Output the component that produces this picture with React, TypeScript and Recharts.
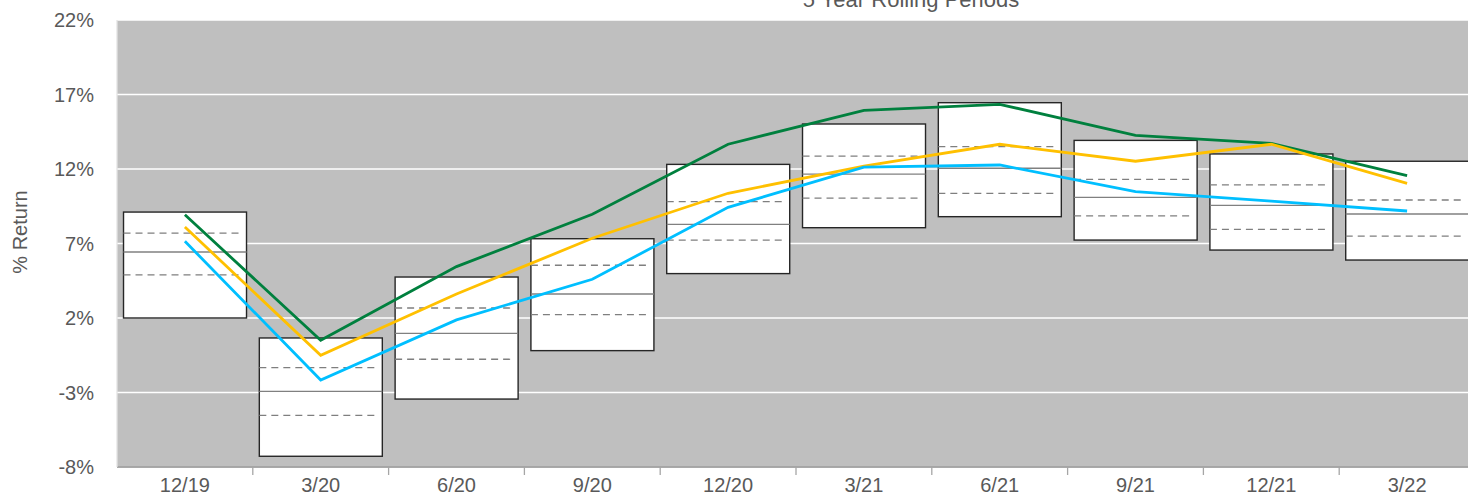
import React from 'react';
import {
  ComposedChart,
  Bar,
  Line,
  XAxis,
  YAxis,
  CartesianGrid,
} from 'recharts';

// rolling 5 year periods
const periods = ['12/19', '3/20', '6/20', '9/20', '12/20', '3/21', '6/21', '9/21', '12/21', '3/22'];

// universe percentiles (box = 5th..95th, dashed = 25th/75th, solid = median)
const pct5 = [2.0, -7.28, -3.44, -0.19, 4.98, 8.06, 8.8, 7.23, 6.56, 5.89];
const pct25 = [4.89, -4.53, -0.77, 2.22, 7.23, 10.05, 10.37, 8.85, 7.95, 7.5];
const pct50 = [6.43, -2.92, 0.97, 3.61, 8.29, 11.66, 12.05, 10.1, 9.56, 8.98];
const pct75 = [7.7, -1.33, 2.67, 5.54, 9.81, 12.87, 13.5, 11.31, 10.93, 9.92];
const pct95 = [9.11, 0.66, 4.75, 7.32, 12.31, 15.02, 16.45, 13.92, 13.01, 12.52];

// series
const greenSeries = [8.93, 0.5, 5.45, 8.96, 13.66, 15.94, 16.34, 14.26, 13.72, 11.55];
const yellowSeries = [8.11, -0.5, 3.61, 7.35, 10.37, 12.2, 13.66, 12.52, 13.66, 11.04];
const blueSeries = [7.15, -2.16, 1.87, 4.6, 9.43, 12.12, 12.27, 10.48, 9.85, 9.18];

const yTicks = [-8, -3, 2, 7, 12, 17, 22];

const data = periods.map((p, i) => ({
  period: p,
  range: [pct5[i], pct95[i]],
  p5: pct5[i],
  p25: pct25[i],
  p50: pct50[i],
  p75: pct75[i],
  p95: pct95[i],
  green: greenSeries[i],
  yellow: yellowSeries[i],
  blue: blueSeries[i],
}));

const CHART_W = 1475;
const CHART_H = 496;
const AXIS_W = 117;
const BAND = (CHART_W - AXIS_W) / periods.length;
const FONT = '"Liberation Sans", Arial, sans-serif';
const TEXT = '#595959';

const BoxShape = (props: any) => {
  const { x, y, width, height, payload } = props;
  const top = Math.min(y, y + height);
  const h = Math.abs(height);
  const { p5, p25, p50, p75, p95 } = payload;
  const toY = (v: number) => top + ((p95 - v) / (p95 - p5)) * h;
  return (
    <g>
      <rect x={x} y={top} width={width} height={h} fill="#ffffff" stroke="#262626" strokeWidth={1.4} />
      <line x1={x} x2={x + width - 6} y1={toY(p75)} y2={toY(p75)} stroke="#7f7f7f" strokeWidth={1.3} strokeDasharray="7 5" />
      <line x1={x} x2={x + width} y1={toY(p50)} y2={toY(p50)} stroke="#808080" strokeWidth={1.3} />
      <line x1={x} x2={x + width - 6} y1={toY(p25)} y2={toY(p25)} stroke="#7f7f7f" strokeWidth={1.3} strokeDasharray="7 5" />
    </g>
  );
};

const XTick = (props: any) => {
  const { x, y, payload } = props;
  return (
    <g>
      <line x1={x + BAND / 2} x2={x + BAND / 2} y1={y - 10} y2={y - 2} stroke="#a6a6a6" strokeWidth={1.3} />
      <text x={x} y={y + 15} textAnchor="middle" fill={TEXT} fontSize={20} fontFamily={FONT}>
        {payload.value}
      </text>
    </g>
  );
};

const YLabel = () => (
  <text
    x={27}
    y={232}
    transform="rotate(-90 27 232)"
    textAnchor="middle"
    fill={TEXT}
    fontSize={20}
    fontFamily={FONT}
  >
    % Return
  </text>
);

export default function App() {
  return (
    <div style={{ position: 'absolute', left: 0, top: 0, width: 1468, height: CHART_H, overflow: 'hidden', background: '#fff' }}>
      <ComposedChart
        width={CHART_W}
        height={CHART_H}
        data={data}
        margin={{ top: 20, right: 0, left: 0, bottom: 0 }}
        barCategoryGap="4.8%"
      >
        <CartesianGrid horizontal vertical={false} stroke="#ffffff" strokeWidth={1.3} fill="#bfbfbf" fillOpacity={1} />
        <XAxis
          dataKey="period"
          height={29}
          tick={<XTick />}
          tickLine={false}
          tickSize={8}
          tickMargin={2}
          axisLine={{ stroke: '#8c8c8c', strokeWidth: 1.5 }}
          interval={0}
        />
        <YAxis
          width={AXIS_W}
          domain={[-8, 22]}
          ticks={yTicks}
          tickFormatter={(v: number) => `${v}%`}
          tick={{ fill: TEXT, fontSize: 20, fontFamily: FONT }}
          tickLine={false}
          tickSize={0}
          tickMargin={23}
          axisLine={{ stroke: '#e3e3e3', strokeWidth: 1.3 }}
          label={<YLabel />}
          allowDataOverflow
        />
        <Bar dataKey="range" shape={<BoxShape />} isAnimationActive={false} />
        <Line type="linear" dataKey="green" stroke="#00803e" strokeWidth={2.8} dot={false} activeDot={false} isAnimationActive={false} />
        <Line type="linear" dataKey="yellow" stroke="#ffc000" strokeWidth={2.8} dot={false} activeDot={false} isAnimationActive={false} />
        <Line type="linear" dataKey="blue" stroke="#00bfff" strokeWidth={2.8} dot={false} activeDot={false} isAnimationActive={false} />
      </ComposedChart>
      <svg width={1468} height={30} style={{ position: 'absolute', left: 0, top: 0, pointerEvents: 'none' }}>
        <text x={911} y={7} textAnchor="middle" fill={TEXT} fontSize={22} fontFamily={FONT}>
          5 Year Rolling Periods
        </text>
      </svg>
    </div>
  );
}
